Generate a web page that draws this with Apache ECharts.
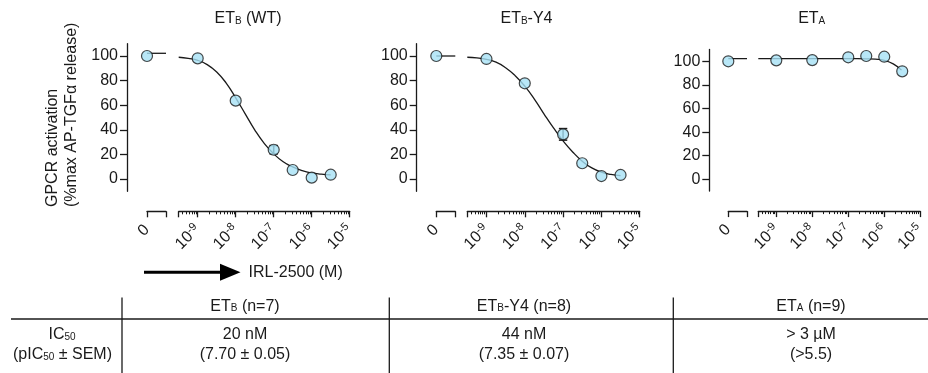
<!DOCTYPE html>
<html><head><meta charset="utf-8">
<script src="https://cdn.jsdelivr.net/npm/echarts@6/dist/echarts.min.js"></script>
<style>html,body{margin:0;padding:0;background:#fff}#c{width:928px;height:373px}</style>
</head><body><div id="c"></div>
<script>
// ---------------- data ----------------
const yTickValues = [0, 20, 40, 60, 80, 100];
const xMajorExponents = [-9, -8, -7, -6, -5];   // tick labels 10^-9 ... 10^-5
const zeroTickLabel = '0';

// log10 of IRL-2500 concentration (M)
const logConc = [-9, -8, -7, -6.5, -6, -5.5];

// ETB (WT)
const wtZero = 100;
const wtZeroLine = 102.2;
const wtResp = [98.1, 63.7, 23.8, 7.3, 1.1, 3.5];
const wtSem  = [0, 0, 3.4, 0, 0, 0];
const wtFitX = [-9.5, -9.25, -9, -8.75, -8.5, -8.25, -8, -7.75, -7.5, -7.25, -7, -6.75, -6.5, -6.25, -6, -5.75, -5.5];
const wtFitY = [99, 98, 96.5, 93, 87, 78, 66, 53, 40, 29, 20.5, 14, 9.8, 6.8, 4.9, 3.9, 3.3];

// ETB-Y4
const y4Zero = 100;
const y4ZeroLine = 100;
const y4Resp = [97.6, 77.8, 36.3, 12.8, 2.4, 3.3];
const y4Sem  = [0, 0, 4.7, 0, 0, 0];
const y4FitX = [-9.5, -9.25, -9, -8.75, -8.5, -8.25, -8, -7.75, -7.5, -7.25, -7, -6.75, -6.5, -6.25, -6, -5.75, -5.5];
const y4FitY = [99, 98.5, 97.3, 95, 90.5, 84, 75.5, 65, 53, 41.5, 31, 22, 14.5, 9, 5.6, 3.7, 2.7];

// ETA
const etaZero = 100;
const etaZeroLine = 102.2;
const etaResp = [100.8, 101, 103.4, 104.5, 103.9, 91.5];
const etaSem  = [0, 0, 0, 0, 0, 0];
const etaFitX = [-9.5, -9, -8.5, -8, -7.5, -7, -6.75, -6.5, -6.25, -6, -5.75, -5.52];
const etaFitY = [102.2, 102.2, 102.2, 102.2, 102.2, 102.2, 102.2, 102.1, 101.8, 100.8, 97.8, 92.5];

// table
const tableHeaders = [['ET', 'B', ' (n=7)'], ['ET', 'B', '-Y4 (n=8)'], ['ET', 'A', ' (n=9)']];
const tableIC50 = ['20 nM', '44 nM', '> 3 µM'];
const tablePIC50 = ['(7.70 ± 0.05)', '(7.35 ± 0.07)', '(>5.5)'];

// ---------------- layout ----------------
const FONT = 'Liberation Sans, Arial, Helvetica, sans-serif';
const INK = '#1a1a1a';
const FILL = '#a6e1f5';
const panels = [
  { top: 43.7, height: 147.6, z0: 147, zw: 19, l0: 178.7, lw: 171, yOff: 20,
    zero: wtZero, zeroLine: wtZeroLine, resp: wtResp, sem: wtSem, fx: wtFitX, fy: wtFitY },
  { top: 43.7, height: 147.6, z0: 436.3, zw: 19, l0: 467.3, lw: 172.4, yOff: 19.6,
    zero: y4Zero, zeroLine: y4ZeroLine, resp: y4Resp, sem: y4Sem, fx: y4FitX, fy: y4FitY },
  { top: 49.5, height: 141.6, z0: 728.3, zw: 18.7, l0: 758.3, lw: 165.6, yOff: 19,
    zero: etaZero, zeroLine: etaZeroLine, resp: etaResp, sem: etaSem, fx: etaFitX, fy: etaFitY }
];

const minorTicks = [];
for (let d = -10; d < -5; d++) {
  for (let k = 2; k <= 9; k++) {
    const v = d + Math.log10(k);
    if (v > -9.5 && v < -5) minorTicks.push(v);
  }
}

const grid = [], xAxis = [], yAxis = [], series = [];
const labelRich = {
  b: { fontSize: 16, lineHeight: 18, fontFamily: FONT, color: INK },
  s: { fontSize: 11, lineHeight: 11, verticalAlign: 'top', fontFamily: FONT, color: INK }
};

panels.forEach((p, i) => {
  const gz = grid.length;
  grid.push({ left: p.z0, top: p.top, width: p.zw, height: p.height });
  const gl = grid.length;
  grid.push({ left: p.l0, top: p.top, width: p.lw, height: p.height });

  const axLine = { show: true, onZero: false, lineStyle: { color: INK, width: 1.3 } };
  const xz = xAxis.length;
  xAxis.push({ type: 'value', gridIndex: gz, min: 0, max: 1, position: 'bottom', offset: 20,
    axisLine: axLine, splitLine: { show: false },
    axisTick: { show: true, customValues: [0, 1], length: 6, lineStyle: { color: INK, width: 1.3 } },
    axisLabel: { show: true, customValues: [0], rotate: 45, margin: 16, formatter: () => zeroTickLabel,
      fontSize: 16, fontFamily: FONT, color: INK } });
  const xl = xAxis.length;
  xAxis.push({ type: 'value', gridIndex: gl, min: -9.5, max: -5, position: 'bottom', offset: 20,
    axisLine: axLine, splitLine: { show: false },
    axisTick: { show: true, customValues: [-9.5].concat(xMajorExponents), length: 6, lineStyle: { color: INK, width: 1.3 } },
    axisLabel: { show: true, customValues: xMajorExponents, rotate: 45, margin: 16,
      formatter: v => '{b|10}{s|' + v + '}', rich: labelRich } });
  xAxis.push({ type: 'value', gridIndex: gl, min: -9.5, max: -5, position: 'bottom', offset: 20,
    axisLine: { show: false, onZero: false }, splitLine: { show: false }, axisLabel: { show: false },
    axisTick: { show: true, customValues: minorTicks, length: 3, lineStyle: { color: INK, width: 1 } } });

  const yz = yAxis.length;
  yAxis.push({ type: 'value', gridIndex: gz, min: -10, max: 110, position: 'left', offset: p.yOff,
    axisLine: { show: true, onZero: false, lineStyle: { color: INK, width: 1.3 } }, splitLine: { show: false },
    axisTick: { show: true, customValues: yTickValues, length: 7, lineStyle: { color: INK, width: 1.3 } },
    axisLabel: { show: true, customValues: yTickValues, margin: 9, fontSize: 16, fontFamily: FONT, color: INK } });
  const yl = yAxis.length;
  yAxis.push({ type: 'value', gridIndex: gl, min: -10, max: 110, show: false });

  const pointStyle = { color: FILL, borderColor: INK, borderWidth: 1.2 };
  series.push({ type: 'line', xAxisIndex: xz, yAxisIndex: yz, data: [[0, p.zeroLine], [1, p.zeroLine]],
    symbol: 'none', lineStyle: { color: INK, width: 1.3 }, z: 2, silent: true });
  series.push({ type: 'scatter', xAxisIndex: xz, yAxisIndex: yz, data: [[0, p.zero]],
    symbolSize: 11, itemStyle: pointStyle, z: 5 });
  series.push({ type: 'line', xAxisIndex: xl, yAxisIndex: yl, data: p.fx.map((x, j) => [x, p.fy[j]]),
    symbol: 'none', smooth: 0.5, lineStyle: { color: INK, width: 1.3 }, z: 2 });
  series.push({ type: 'custom', xAxisIndex: xl, yAxisIndex: yl,
    data: logConc.map((x, j) => [x, p.resp[j], p.sem[j]]).filter(d => d[2] > 0),
    renderItem: (params, api) => {
      const x = api.value(0), y = api.value(1), e = api.value(2);
      const a = api.coord([x, y + e]), b = api.coord([x, y - e]);
      const w = 4.2, st = { stroke: INK, lineWidth: 1.5 };
      return { type: 'group', children: [
        { type: 'line', shape: { x1: a[0], y1: a[1], x2: b[0], y2: b[1] }, style: st },
        { type: 'line', shape: { x1: a[0] - w, y1: a[1], x2: a[0] + w, y2: a[1] }, style: st },
        { type: 'line', shape: { x1: b[0] - w, y1: b[1], x2: b[0] + w, y2: b[1] }, style: st }
      ] };
    }, z: 3 });
  series.push({ type: 'scatter', xAxisIndex: xl, yAxisIndex: yl, data: logConc.map((x, j) => [x, p.resp[j]]),
    symbolSize: 11, itemStyle: pointStyle, z: 5 });
});

// ---------------- graphics ----------------
const txtRich = {
  n: { fontSize: 16, lineHeight: 18, fontFamily: FONT, color: INK },
  s: { fontSize: 10, lineHeight: 10, verticalAlign: 'bottom', fontFamily: FONT, color: INK, padding: [0, 0, 2, 0] }
};
function rt(text, x, y, align) {
  return { type: 'text', x: x, y: y, silent: true,
    style: { text: text, rich: txtRich, textAlign: align || 'center', textVerticalAlign: 'middle',
      fontSize: 16, fontFamily: FONT, fill: INK } };
}
const graphics = [];
graphics.push(rt('{n|ET}{s|B}{n| (WT)}', 248, 19));
graphics.push(rt('{n|ET}{s|B}{n|-Y4}', 526.5, 19));
graphics.push(rt('{n|ET}{s|A}', 811.7, 19));
graphics.push({ type: 'text', x: 62.5, y: 207, rotation: Math.PI / 2, silent: true,
  style: { text: 'GPCR activation\n(%max AP-TGFα release)', textAlign: 'left', textVerticalAlign: 'middle',
    lineHeight: 19, fontSize: 16, fontFamily: FONT, fill: INK } });
graphics.push({ type: 'line', silent: true, shape: { x1: 144, y1: 272.3, x2: 222, y2: 272.3 }, style: { stroke: '#000', lineWidth: 3 } });
graphics.push({ type: 'polygon', silent: true, shape: { points: [[220, 263.8], [240.5, 272.3], [220, 280.8]] }, style: { fill: '#000' } });
graphics.push({ type: 'text', x: 248.5, y: 272.5, silent: true,
  style: { text: 'IRL-2500 (M)', textAlign: 'left', textVerticalAlign: 'middle', fontSize: 16, fontFamily: FONT, fill: INK } });
const tl = { stroke: INK, lineWidth: 1.3 };
graphics.push({ type: 'line', silent: true, shape: { x1: 11, y1: 319, x2: 928, y2: 319 }, style: tl });
[122, 389.3, 673.3].forEach(x => graphics.push({ type: 'line', silent: true, shape: { x1: x, y1: 297.5, x2: x, y2: 373 }, style: tl }));
const colCenters = [245, 524, 811];
tableHeaders.forEach((h, i) => graphics.push(rt('{n|' + h[0] + '}{s|' + h[1] + '}{n|' + h[2] + '}', colCenters[i], 306.7)));
tableIC50.forEach((t, i) => graphics.push(rt('{n|' + t + '}', colCenters[i], 335)));
tablePIC50.forEach((t, i) => graphics.push(rt('{n|' + t + '}', colCenters[i], 355)));
graphics.push(rt('{n|IC}{s|50}', 62, 335));
graphics.push(rt('{n|(pIC}{s|50}{n| ± SEM)}', 62.5, 355));

const chart = echarts.init(document.getElementById('c'), null, { renderer: 'canvas' });
chart.setOption({
  animation: false,
  backgroundColor: '#fff',
  textStyle: { fontFamily: FONT, color: INK },
  grid: grid, xAxis: xAxis, yAxis: yAxis, series: series,
  graphic: { elements: graphics }
});
</script></body></html>
